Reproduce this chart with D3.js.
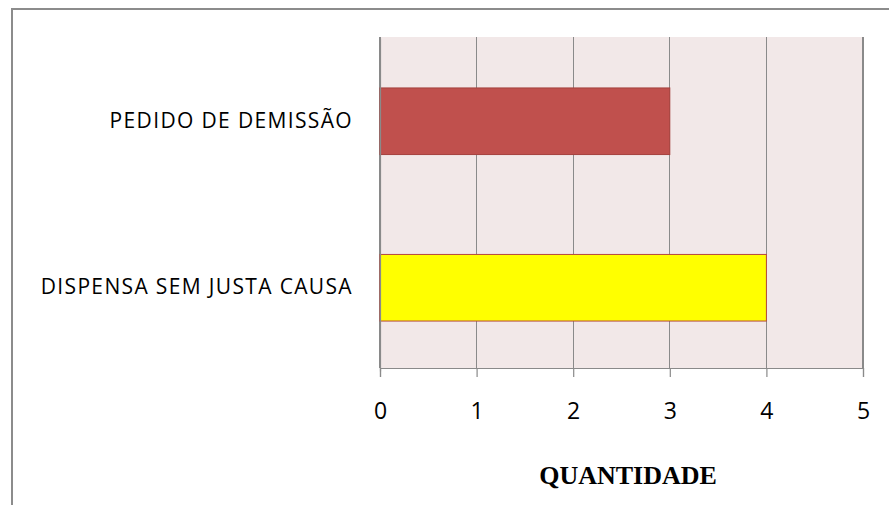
<!DOCTYPE html>
<html>
<head>
<meta charset="utf-8">
<script src="https://cdn.jsdelivr.net/npm/d3@7"></script>
<style>
  body { margin: 0; background: #fff; }
  svg { display: block; }
</style>
</head>
<body>
<svg id="chart" width="889" height="505"></svg>
<script>
const categories = ['PEDIDO DE DEMISSÃO', 'DISPENSA SEM JUSTA CAUSA'];
const values = [3, 4];
const barColors = ['#C0504D', '#FFFF00'];
const barStrokes = ['#A5403D', '#B5473F'];
const xTicks = [0, 1, 2, 3, 4, 5];
const axisTitle = 'QUANTIDADE';

const svg = d3.select('#chart');
const plot = { left: 380, right: 863, top: 37, bottom: 368 };

// chart frame (extends past the right/bottom edges of the picture)
svg.append('rect')
  .attr('x', 12).attr('y', 9)
  .attr('width', 900).attr('height', 520)
  .attr('fill', '#fff')
  .attr('stroke', '#8c8c8c')
  .attr('stroke-width', 2);

const x = d3.scaleLinear().domain([0, 5]).range([plot.left, plot.right]);
const y = d3.scaleBand().domain(categories).range([plot.top + 1, plot.bottom + 3]).paddingInner(0.6).paddingOuter(0.3);

svg.append('rect')
  .attr('x', plot.left).attr('y', plot.top)
  .attr('width', plot.right - plot.left).attr('height', plot.bottom - plot.top)
  .attr('fill', '#F2E8E8');

// gridlines
svg.append('g')
  .selectAll('line')
  .data(xTicks)
  .enter().append('line')
  .attr('x1', d => x(d)).attr('x2', d => x(d))
  .attr('y1', plot.top).attr('y2', plot.bottom)
  .attr('stroke', '#8a8a8a')
  .attr('stroke-width', 1.2)
  .attr('shape-rendering', 'crispEdges');

// bars
svg.append('g')
  .selectAll('rect')
  .data(categories)
  .enter().append('rect')
  .attr('x', x(0))
  .attr('y', d => y(d))
  .attr('width', (d, i) => x(values[i]) - x(0))
  .attr('height', y.bandwidth())
  .attr('fill', (d, i) => barColors[i])
  .attr('stroke', (d, i) => barStrokes[i])
  .attr('stroke-width', 1);

// x axis
const xAxis = svg.append('g')
  .attr('transform', 'translate(0,' + plot.bottom + ')')
  .call(d3.axisBottom(x).tickValues(xTicks).tickSize(9).tickFormat(d3.format('d')));
xAxis.select('.domain').attr('stroke', '#8a8a8a').attr('stroke-width', 1.2);
xAxis.selectAll('.tick line').attr('stroke', '#8a8a8a').attr('stroke-width', 1.2);
xAxis.selectAll('.tick text')
  .attr('y', 43)
  .attr('dy', '0.35em')
  .attr('fill', '#000')
  .style('font-family', "'Open Sans', 'Liberation Sans', sans-serif")
  .style('font-size', '23px');

// y axis
const yAxis = svg.append('g')
  .attr('transform', 'translate(' + plot.left + ',0)')
  .call(d3.axisLeft(y).tickSize(0).tickPadding(27));
yAxis.select('.domain').attr('stroke', '#8a8a8a').attr('stroke-width', 1.2);
yAxis.selectAll('.tick text')
  .attr('fill', '#000')
  .style('font-family', "'Open Sans', 'Liberation Sans', sans-serif")
  .style('font-size', '21px')
  .style('letter-spacing', '1.35px');

svg.append('text')
  .attr('x', 628).attr('y', 484)
  .attr('text-anchor', 'middle')
  .style('font-family', "'Liberation Serif', 'DejaVu Serif', serif")
  .style('font-weight', 'bold')
  .style('font-size', '26px')
  .text(axisTitle);
</script>
</body>
</html>
